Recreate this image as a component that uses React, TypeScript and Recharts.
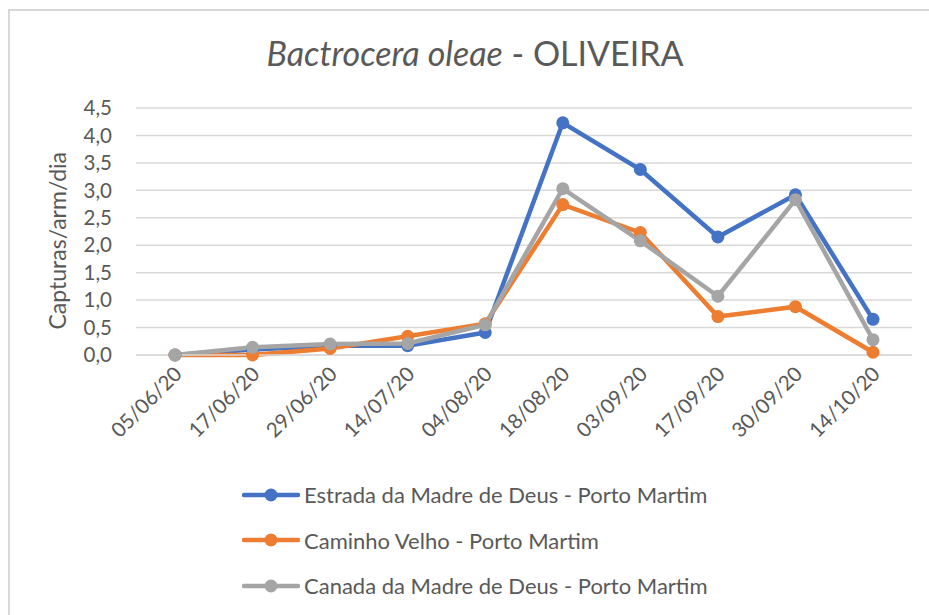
import { CartesianGrid, Legend, Line, LineChart, XAxis, YAxis } from "recharts";

const dates = ["05/06/20", "17/06/20", "29/06/20", "14/07/20", "04/08/20", "18/08/20", "03/09/20", "17/09/20", "30/09/20", "14/10/20"];
const estrada = [0, 0.1, 0.17, 0.17, 0.41, 4.23, 3.38, 2.15, 2.92, 0.65];
const caminho = [0, 0.0, 0.12, 0.34, 0.57, 2.74, 2.23, 0.7, 0.88, 0.05];
const canada = [0, 0.14, 0.2, 0.21, 0.55, 3.03, 2.08, 1.07, 2.83, 0.28];
const yTicks = [0, 0.5, 1, 1.5, 2, 2.5, 3, 3.5, 4, 4.5];

const series = [
  { key: "estrada", name: "Estrada da Madre de Deus - Porto Martim", color: "#4472c4" },
  { key: "caminho", name: "Caminho Velho - Porto Martim", color: "#ed7d31" },
  { key: "canada", name: "Canada da Madre de Deus - Porto Martim", color: "#a5a5a5" },
];

const data = dates.map((d, i) => ({ date: d, estrada: estrada[i], caminho: caminho[i], canada: canada[i] }));

const font = "Lato, 'Open Sans', sans-serif";
const textColor = "#595959";

function DateTick({ x, y, payload }: any) {
  return (
    <g transform={`translate(${x + 4},${y + 8})`}>
      <text textAnchor="end" transform="rotate(-45)" fill={textColor} fontSize={20.5} fontFamily={font} dy={6}>
        {payload.value}
      </text>
    </g>
  );
}

function LegendBox() {
  return (
    <div style={{ fontFamily: font }}>
      {series.map((s) => (
        <div key={s.key} style={{ display: "flex", alignItems: "center", height: 45.5 }}>
          <svg width={58} height={16}>
            <line x1={2} y1={8} x2={56} y2={8} stroke={s.color} strokeWidth={4.5} strokeLinecap="round" />
            <circle cx={29} cy={8} r={6.5} fill={s.color} />
          </svg>
          <span style={{ fontSize: 22, color: textColor, marginLeft: 4 }}>{s.name}</span>
        </div>
      ))}
    </div>
  );
}

export default function App() {
  return (
    <div style={{ position: "absolute", left: 0, top: 0, width: 929, height: 615, background: "#fff", overflow: "hidden" }}>
      <div style={{ position: "absolute", left: 8, top: 9, width: 940, height: 640, borderLeft: "2px solid #d9d9d9", borderTop: "2px solid #d9d9d9" }} />
      <div style={{ position: "absolute", left: 0, width: 950, top: 32, textAlign: "center", fontFamily: font, fontSize: 34, color: textColor }}>
        <i>Bactrocera oleae</i> - OLIVEIRA
      </div>
      <LineChart width={929} height={615} data={data} margin={{ top: 108, right: 17, left: 40, bottom: 170 }} style={{ position: "absolute", left: 0, top: 0 }}>
        <CartesianGrid vertical={false} stroke="#d9d9d9" strokeWidth={1.5} />
        <XAxis
          dataKey="date"
          tick={<DateTick />}
          tickLine={false}
          axisLine={{ stroke: "#d9d9d9", strokeWidth: 1.5 }}
          interval={0}
          height={90}
          padding={{ left: 39, right: 39 }}
        />
        <YAxis
          domain={[0, 4.5]}
          ticks={yTicks}
          interval={0}
          tickFormatter={(v: number) => v.toFixed(1).replace(".", ",")}
          axisLine={false}
          tickLine={false}
          width={96}
          tickMargin={18}
          tick={{ fill: textColor, fontSize: 20.5, fontFamily: font }}
          label={{ value: "Capturas/arm/dia", angle: -90, position: "insideLeft", offset: 18, dy: 98, fill: textColor, fontSize: 23, fontFamily: font }}
        />
        {series.map((s) => (
          <Line
            key={s.key}
            dataKey={s.key}
            name={s.name}
            stroke={s.color}
            strokeWidth={4.5}
            dot={{ r: 6.5, fill: s.color, stroke: s.color, strokeWidth: 0 }}
            isAnimationActive={false}
          />
        ))}
        <Legend layout="vertical" align="center" verticalAlign="middle" content={<LegendBox />} wrapperStyle={{ position: "absolute", top: 472, left: 242, width: 560 }} />
      </LineChart>
    </div>
  );
}
